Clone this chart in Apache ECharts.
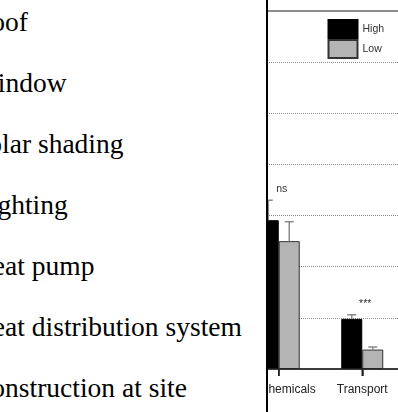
<!DOCTYPE html>
<html>
<head>
<meta charset="utf-8">
<script src="https://cdn.jsdelivr.net/npm/echarts@6/dist/echarts.min.js"></script>
<style>
  html, body { margin: 0; padding: 0; width: 398px; height: 412px; overflow: hidden; background: #fff; }
  #list { position: absolute; left: -27px; top: -9px; font-family: "Liberation Serif", "Times New Roman", serif;
          font-size: 27.5px; line-height: 61px; color: #000; white-space: nowrap; }
  #panel { position: absolute; left: 266px; top: 0; width: 130px; height: 412px;
           border-left: 2px solid #000; overflow: hidden; background: #fff; }
  #chart { position: absolute; left: -40px; top: 0; width: 182px; height: 412px; }
</style>
</head>
<body>
<div id="list"></div>
<div id="panel"><div id="chart"></div></div>
<script>
// Building components listed beside the figure
const components = ["Roof", "Window", "Solar shading", "Lighting", "Heat pump",
                    "Heat distribution system", "Construction at site"];

// Bar chart data
const categories = ["Chemicals", "Transport"];
const groups = ["High", "Low"];
const highValues = [2.91, 0.98];
const lowValues = [2.50, 0.38];
const highErrors = [0.39, 0.08];
const lowErrors = [0.38, 0.05];
const significance = ["ns", "***"];
const yMin = 0, yMax = 7, yStep = 1;

document.getElementById('list').innerHTML =
  components.map(c => '<div>' + c + '</div>').join('');

const BAR_W = 21;
const ERR_COLOR = '#8a8a8a';

function errorBars(values, errors, offset) {
  return {
    type: 'custom',
    silent: true,
    z: 3,
    encode: { x: 0, y: [1, 2] },
    data: values.map((v, i) => [i, v, v + errors[i]]),
    renderItem(params, api) {
      const base = api.coord([api.value(0), api.value(1)]);
      const top = api.coord([api.value(0), api.value(2)]);
      const x = base[0] + offset;
      const half = 4.5;
      return {
        type: 'group',
        children: [
          { type: 'line', shape: { x1: x, y1: base[1], x2: x, y2: top[1] },
            style: { stroke: ERR_COLOR, lineWidth: 1.5 } },
          { type: 'line', shape: { x1: x - half, y1: top[1], x2: x + half, y2: top[1] },
            style: { stroke: ERR_COLOR, lineWidth: 1.5 } }
        ]
      };
    }
  };
}

const chart = echarts.init(document.getElementById('chart'), null, { renderer: 'canvas' });
chart.setOption({
  animation: false,
  backgroundColor: '#fff',
  grid: { left: 9, right: 6, top: 11, bottom: 43, show: true,
          borderColor: '#8c8c8c', borderWidth: 2, backgroundColor: 'transparent' },
  legend: {
    data: groups, orient: 'vertical', left: 99.5, top: 19, padding: 0,
    itemWidth: 29, itemHeight: 18, itemGap: 0, icon: 'rect',
    textStyle: { fontSize: 10.5, color: '#333', fontFamily: 'Liberation Sans' }
  },
  xAxis: {
    type: 'category', data: categories, z: 5,
    axisLine: { show: true, onZero: false, lineStyle: { color: '#222', width: 1.5 } },
    axisTick: { show: true, alignWithLabel: true, interval: 0, length: 7,
                lineStyle: { color: '#222', width: 1.5 } },
    axisLabel: {
      interval: 0, fontSize: 12, color: '#222', margin: 15, fontFamily: 'Liberation Sans',
      formatter: (v, i) => i === 0 ? '{lead|' + v + '}' : v,
      rich: { lead: { padding: [0, 0, 0, 18], fontSize: 12, color: '#222', fontFamily: 'Liberation Sans' } }
    }
  },
  yAxis: {
    type: 'value', min: yMin, max: yMax, interval: yStep,
    axisLine: { show: false }, axisTick: { show: false }, axisLabel: { show: false },
    splitLine: { lineStyle: { type: 'dotted', color: '#8a8a8a', width: 1 } }
  },
  series: [
    { name: 'High', type: 'bar', data: highValues, barWidth: BAR_W, barGap: '0%',
      itemStyle: { color: '#000', borderColor: '#000', borderWidth: 1 } },
    { name: 'Low', type: 'bar', data: lowValues, barWidth: BAR_W, barGap: '0%',
      itemStyle: { color: '#b4b4b4', borderColor: '#333', borderWidth: 1 } },
    errorBars(highValues, highErrors, -BAR_W / 2),
    errorBars(lowValues, lowErrors, BAR_W / 2),
    {
      // significance markers above each category pair
      type: 'custom', silent: true, z: 4,
      encode: { x: 0, y: 1 },
      data: significance.map((t, i) =>
        [i, Math.max(highValues[i] + highErrors[i], lowValues[i] + lowErrors[i])]),
      renderItem(params, api) {
        const p = api.coord([api.value(0), api.value(1)]);
        return {
          type: 'text', x: p[0] + 3, y: p[1] - 11,
          style: { text: significance[params.dataIndex], fill: '#333', fontSize: 10.5,
                   fontFamily: 'Liberation Sans', align: 'center', verticalAlign: 'middle' }
        };
      }
    },
    {
      // category tick marks below the baseline
      type: 'custom', silent: true, z: 6, clip: false,
      encode: { x: 0, y: 1 },
      data: categories.map((c, i) => [i, yMin]),
      renderItem(params, api) {
        const p = api.coord([api.value(0), api.value(1)]);
        return {
          type: 'line', shape: { x1: p[0], y1: p[1], x2: p[0], y2: p[1] + 7 },
          style: { stroke: '#222', lineWidth: 1.5 }
        };
      }
    }
  ]
});
</script>
</body>
</html>
